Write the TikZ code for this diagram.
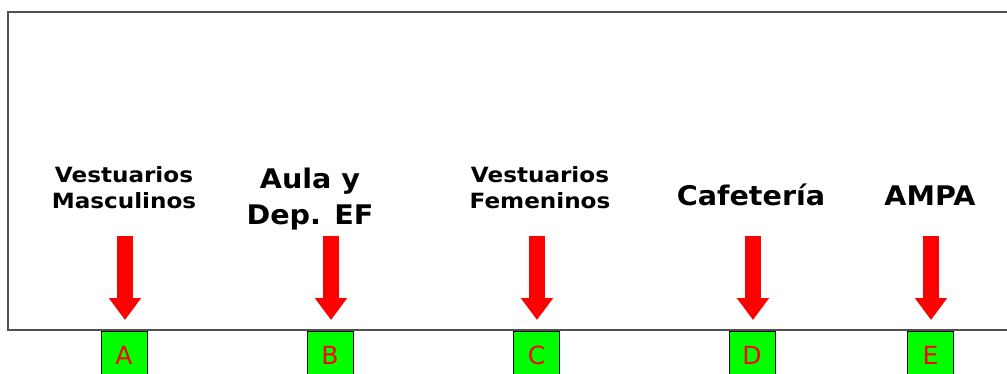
\documentclass[tikz,border=0pt]{standalone}
\usepackage{fontspec}
\setmainfont{DejaVu Sans}
\newfontfamily\lblfont{DejaVu Sans}[FakeStretch=1.1]
\newfontfamily\biglblfont{DejaVu Sans}[FakeStretch=1.06]
\usetikzlibrary{arrows.meta}
\definecolor{framegray}{HTML}{505050}
\definecolor{boxgreen}{HTML}{00FF00}
\definecolor{arrowred}{HTML}{FF0000}
\tikzset{
  frameline/.style={draw=framegray, line width=1.5pt},
  smalllabel/.style={font=\lblfont\fontsize{21}{26}\selectfont\bfseries, align=center, inner sep=0pt},
  biglabel/.style={font=\biglblfont\fontsize{27}{36}\selectfont\bfseries, align=center, inner sep=0pt},
  letterbox/.style={draw=black, line width=0.8pt, fill=boxgreen, minimum width=46pt, minimum height=48pt, anchor=north, inner sep=0pt},
  boxletter/.style={text=arrowred, font=\fontsize{25}{30}\selectfont, anchor=base, inner sep=0pt},
  bigarrow/.style={draw=arrowred, line width=16pt, -{Triangle[width=31pt,length=22pt]}, shorten >=11pt},
}
\begin{document}
\begin{tikzpicture}[x=1pt, y=-1pt]
\useasboundingbox (0,0) rectangle (1007,374);
\draw[frameline] (1010,12) -- (8,12) -- (8,330) -- (1010,330);
% boxes
\node[letterbox] (bA) at (124,331) {};
\node[letterbox] (bB) at (330,331) {};
\node[letterbox] (bC) at (536.5,331) {};
\node[letterbox] (bD) at (752,331) {};
\node[letterbox] (bE) at (930.5,331) {};
\node[boxletter] (lA) at (124,364) {A};
\node[boxletter] (lB) at (330,364) {B};
\node[boxletter] (lC) at (536.5,364) {C};
\node[boxletter] (lD) at (752,364) {D};
\node[boxletter] (lE) at (930.5,364) {E};
% labels
\node[smalllabel] (tA) at (124,188) {Vestuarios\\Masculinos};
\node[biglabel] (tB) at (310,199) {Aula y\\Dep. EF};
\node[smalllabel] (tC) at (540,188) {Vestuarios\\Femeninos};
\node[biglabel, anchor=base] (tD) at (751,206) {Cafetería};
\node[biglabel, anchor=base] (tE) at (930,206) {AMPA};
% arrows
\coordinate (sA) at (125,236);
\coordinate (sB) at (331,236);
\coordinate (sC) at (537,236);
\coordinate (sD) at (753,236);
\coordinate (sE) at (931,236);
\draw[bigarrow] (sA) -- (sA |- bA.north);
\draw[bigarrow] (sB) -- (sB |- bB.north);
\draw[bigarrow] (sC) -- (sC |- bC.north);
\draw[bigarrow] (sD) -- (sD |- bD.north);
\draw[bigarrow] (sE) -- (sE |- bE.north);
\end{tikzpicture}
\end{document}
